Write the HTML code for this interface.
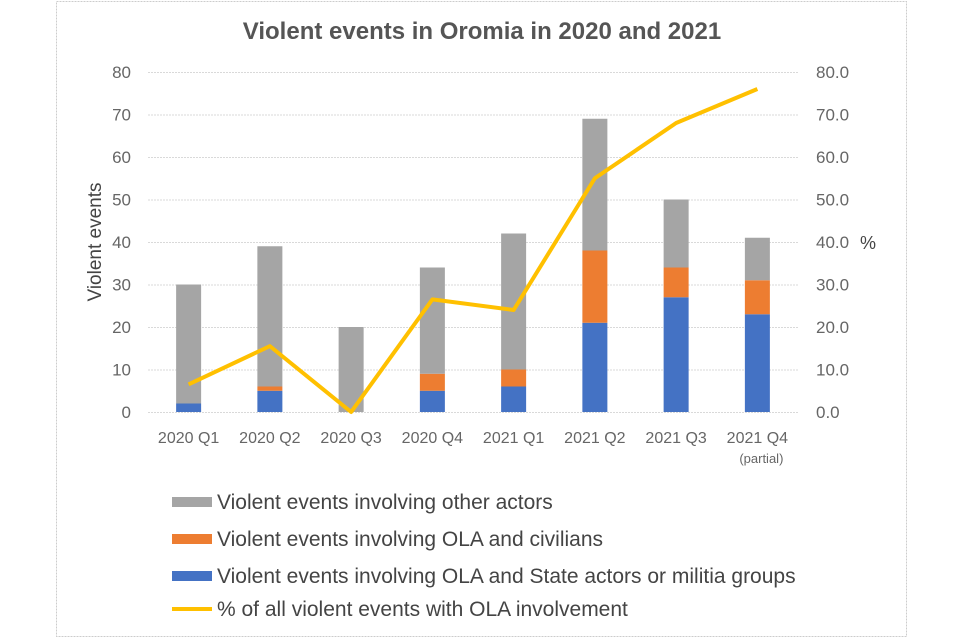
<!DOCTYPE html>
<html><head><meta charset="utf-8"><style>
body{margin:0;background:#fff;}
svg{display:block;font-family:"Liberation Sans",Arial,sans-serif;}
</style></head><body>
<svg id="chart" width="960" height="640">
<rect x="56.5" y="1.5" width="850" height="635" fill="#fff" stroke="#ccc" stroke-dasharray="2,1"/>
<text x="482" y="39" text-anchor="middle" font-size="24" font-weight="bold" fill="#555">Violent events in Oromia in 2020 and 2021</text>
<g id="grid"></g><g id="bars"></g><g id="line"></g><g id="axes"></g>
<text transform="translate(101,242) rotate(-90)" text-anchor="middle" font-size="19" fill="#444">Violent events</text>
<text x="860" y="249" font-size="18" fill="#444">%</text>
<g font-size="21" fill="#444">
<g><rect x="172" y="497" width="40" height="10" fill="#a5a5a5"/><text x="217" y="509">Violent events involving other actors</text></g>
<g><rect x="172" y="534" width="40" height="10" fill="#ed7d31"/><text x="217" y="546">Violent events involving OLA and civilians</text></g>
<g><rect x="172" y="571" width="40" height="10" fill="#4472c4"/><text x="217" y="583">Violent events involving OLA and State actors or militia groups</text></g>
<g><line x1="172" y1="609" x2="212" y2="609" stroke="#ffc000" stroke-width="4"/><text x="217" y="616">% of all violent events with OLA involvement</text></g>
</g>
</svg>
<script>
const categories=["2020 Q1","2020 Q2","2020 Q3","2020 Q4","2021 Q1","2021 Q2","2021 Q3","2021 Q4"];
const olaState=[2,5,0,5,6,21,27,23];
const olaCivilians=[0,1,0,4,4,17,7,8];
const otherActors=[28,33,20,25,32,31,16,10];
const olaPercent=[6.5,15.5,0,26.5,24,55,68,76];
const leftTicks=[0,10,20,30,40,50,60,70,80];
const rightTicks=["0.0","10.0","20.0","30.0","40.0","50.0","60.0","70.0","80.0"];
const NS="http://www.w3.org/2000/svg";
const x0=148,x1=798,yb=412,yt=72;
const band=(x1-x0)/categories.length;
const xc=i=>x0+band*(i+0.5);
const yL=v=>yb-(yb-yt)*v/80;
const yR=v=>yb-(yb-yt)*v/80;
function mk(t,a,p){const e=document.createElementNS(NS,t);for(const k in a)e.setAttribute(k,a[k]);p.appendChild(e);return e;}
const grid=document.getElementById('grid'),bars=document.getElementById('bars'),lineG=document.getElementById('line'),axes=document.getElementById('axes');
leftTicks.forEach((v,i)=>{
 const l=mk('line',{x1:x0,x2:x1,y1:yL(v)+0.5,y2:yL(v)+0.5,stroke:'#d9d9d9','stroke-dasharray':'2,1'},grid);
 
 
 const t=mk('text',{x:131,y:yL(v)+6,'text-anchor':'end','font-size':17,fill:'#666'},axes);t.textContent=v;
 
 
 const r=mk('text',{x:816,y:yR(parseFloat(rightTicks[i]))+6,'font-size':17,fill:'#666'},axes);r.textContent=rightTicks[i];
 
 
});
const bw=25;
categories.forEach((c,i)=>{
 let base=0;
 [[olaState,'#4472c4','bar-ola-state'],[olaCivilians,'#ed7d31','bar-ola-civilians'],[otherActors,'#a5a5a5','bar-other-actors']].forEach(([arr,col,nm])=>{
  const v=arr[i];
  if(v>0){const r=mk('rect',{x:xc(i)-bw/2,y:yL(base+v),width:bw,height:yL(base)-yL(base+v),fill:col},bars);
  
  }
  base+=v;
 });
 const parts=c==="2021 Q4"?[c,"(partial)"]:[c];
 const t=mk('text',{x:xc(i),y:443,'text-anchor':'middle','font-size':16,fill:'#666'},axes);t.textContent=parts[0];
 
 
 if(parts[1]){const p=mk('text',{x:xc(i)+4,y:463,'text-anchor':'middle','font-size':13,fill:'#666'},axes);p.textContent=parts[1];
 
 }
});
const pl=mk('polyline',{points:olaPercent.map((v,i)=>xc(i)+','+yR(v)).join(' '),fill:'none',stroke:'#ffc000','stroke-width':4,'stroke-linejoin':'round'},lineG);


</script>
</body></html>
